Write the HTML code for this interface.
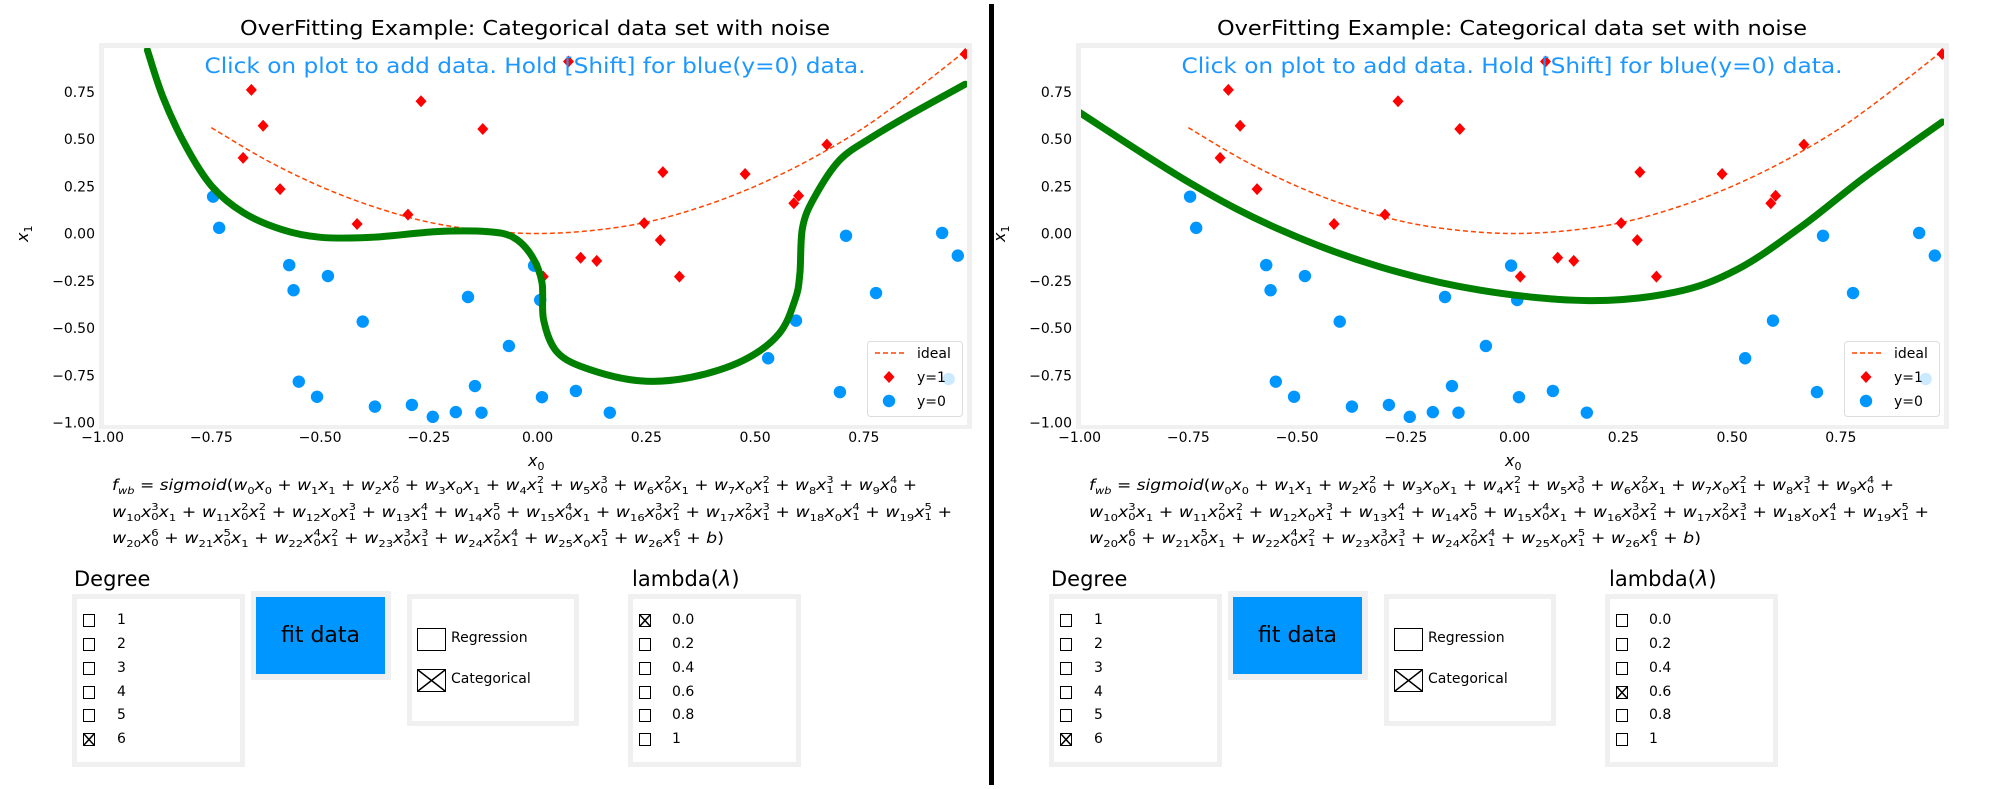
<!DOCTYPE html>
<html><head><meta charset="utf-8">
<style>
html,body{margin:0;padding:0;background:#fff;}
body{width:2000px;height:789px;position:relative;overflow:hidden;font-family:"DejaVu Sans","Liberation Sans",sans-serif;}
.panel{position:absolute;top:0;width:985px;height:789px;}
svg.chart{position:absolute;left:0;top:0;}
.fl{position:absolute;left:112px;white-space:nowrap;font-family:"DejaVu Sans",sans-serif;font-size:15px;line-height:22px;transform-origin:0 50%;}
.fl i{font-style:italic;}
.fl sub{font-size:10px;vertical-align:-4px;line-height:0;}
.t{display:inline-flex;flex-direction:column;font-size:10px;line-height:10px;vertical-align:7px;}
.lab{position:absolute;font-size:21px;line-height:24px;}
.box{position:absolute;background:#f0f0f0;}
.box .in{position:absolute;left:5px;top:5px;right:5px;bottom:5px;background:#fff;}
.cb{position:absolute;width:10px;height:11px;border:1px solid #000;background:#fff;}
.cbl{position:absolute;font-size:14px;line-height:16px;}
.btn{position:absolute;background:#0096ff;font-size:22px;line-height:77px;text-align:center;color:#000;}
.divider{position:absolute;left:989px;top:4px;width:5px;height:781px;background:#000;}
</style></head>
<body>
<div class="divider"></div>

<!-- LEFT PANEL -->
<div class="panel" id="p1" style="left:0">
<svg class="chart" id="chart1" width="985" height="470"></svg>
<div class="fl" style="top:474px"><i>f</i><sub><i>wb</i></sub> = <i>sigmoid</i>(<i>w</i><sub>0</sub><i>x</i><sub>0</sub> + <i>w</i><sub>1</sub><i>x</i><sub>1</sub> + <i>w</i><sub>2</sub><i>x</i><span class="t"><span>2</span><span>0</span></span> + <i>w</i><sub>3</sub><i>x</i><sub>0</sub><i>x</i><sub>1</sub> + <i>w</i><sub>4</sub><i>x</i><span class="t"><span>2</span><span>1</span></span> + <i>w</i><sub>5</sub><i>x</i><span class="t"><span>3</span><span>0</span></span> + <i>w</i><sub>6</sub><i>x</i><span class="t"><span>2</span><span>0</span></span><i>x</i><sub>1</sub> + <i>w</i><sub>7</sub><i>x</i><sub>0</sub><i>x</i><span class="t"><span>2</span><span>1</span></span> + <i>w</i><sub>8</sub><i>x</i><span class="t"><span>3</span><span>1</span></span> + <i>w</i><sub>9</sub><i>x</i><span class="t"><span>4</span><span>0</span></span> +</div>
<div class="fl" style="top:501px"><i>w</i><sub>10</sub><i>x</i><span class="t"><span>3</span><span>0</span></span><i>x</i><sub>1</sub> + <i>w</i><sub>11</sub><i>x</i><span class="t"><span>2</span><span>0</span></span><i>x</i><span class="t"><span>2</span><span>1</span></span> + <i>w</i><sub>12</sub><i>x</i><sub>0</sub><i>x</i><span class="t"><span>3</span><span>1</span></span> + <i>w</i><sub>13</sub><i>x</i><span class="t"><span>4</span><span>1</span></span> + <i>w</i><sub>14</sub><i>x</i><span class="t"><span>5</span><span>0</span></span> + <i>w</i><sub>15</sub><i>x</i><span class="t"><span>4</span><span>0</span></span><i>x</i><sub>1</sub> + <i>w</i><sub>16</sub><i>x</i><span class="t"><span>3</span><span>0</span></span><i>x</i><span class="t"><span>2</span><span>1</span></span> + <i>w</i><sub>17</sub><i>x</i><span class="t"><span>2</span><span>0</span></span><i>x</i><span class="t"><span>3</span><span>1</span></span> + <i>w</i><sub>18</sub><i>x</i><sub>0</sub><i>x</i><span class="t"><span>4</span><span>1</span></span> + <i>w</i><sub>19</sub><i>x</i><span class="t"><span>5</span><span>1</span></span> +</div>
<div class="fl" style="top:527px"><i>w</i><sub>20</sub><i>x</i><span class="t"><span>6</span><span>0</span></span> + <i>w</i><sub>21</sub><i>x</i><span class="t"><span>5</span><span>0</span></span><i>x</i><sub>1</sub> + <i>w</i><sub>22</sub><i>x</i><span class="t"><span>4</span><span>0</span></span><i>x</i><span class="t"><span>2</span><span>1</span></span> + <i>w</i><sub>23</sub><i>x</i><span class="t"><span>3</span><span>0</span></span><i>x</i><span class="t"><span>3</span><span>1</span></span> + <i>w</i><sub>24</sub><i>x</i><span class="t"><span>2</span><span>0</span></span><i>x</i><span class="t"><span>4</span><span>1</span></span> + <i>w</i><sub>25</sub><i>x</i><sub>0</sub><i>x</i><span class="t"><span>5</span><span>1</span></span> + <i>w</i><sub>26</sub><i>x</i><span class="t"><span>6</span><span>1</span></span> + <i>b</i>)</div>

<div class="lab" style="left:74px;top:567px">Degree</div>
<div class="box" style="left:72px;top:594px;width:173px;height:173px"><div class="in"></div></div>
<div class="cb" style="left:83px;top:614px"></div><div class="cbl" style="left:117px;top:612px">1</div>
<div class="cb" style="left:83px;top:638px"></div><div class="cbl" style="left:117px;top:636px">2</div>
<div class="cb" style="left:83px;top:662px"></div><div class="cbl" style="left:117px;top:660px">3</div>
<div class="cb" style="left:83px;top:686px"></div><div class="cbl" style="left:117px;top:684px">4</div>
<div class="cb" style="left:83px;top:709px"></div><div class="cbl" style="left:117px;top:707px">5</div>
<div class="cb" style="left:83px;top:733px"><svg width="10" height="11" style="position:absolute;left:0;top:0"><path d="M0 0L10 11M10 0L0 11" stroke="#000" stroke-width="1.5"/></svg></div><div class="cbl" style="left:117px;top:731px">6</div>

<div class="box" style="left:251px;top:591px;width:140px;height:89px"></div>
<div class="btn" style="left:256px;top:597px;width:129px;height:77px">fit data</div>

<div class="box" style="left:407px;top:594px;width:172px;height:132px"><div class="in"></div></div>
<div class="cb" style="left:417px;top:628px;width:27px;height:21px"></div>
<div class="cbl" style="left:451px;top:630px">Regression</div>
<div class="cb" style="left:417px;top:669px;width:27px;height:21px"><svg width="27" height="21" style="position:absolute;left:0;top:0"><path d="M0 0L27 21M27 0L0 21" stroke="#000" stroke-width="1.5"/></svg></div>
<div class="cbl" style="left:451px;top:671px">Categorical</div>

<div class="lab" style="left:632px;top:567px">lambda(<i>λ</i>)</div>
<div class="box" style="left:628px;top:594px;width:173px;height:173px"><div class="in"></div></div>
<div class="cb" style="left:639px;top:614px"><svg width="10" height="11" style="position:absolute;left:0;top:0"><path d="M0 0L10 11M10 0L0 11" stroke="#000" stroke-width="1.5"/></svg></div><div class="cbl" style="left:672px;top:612px">0.0</div>
<div class="cb" style="left:639px;top:638px"></div><div class="cbl" style="left:672px;top:636px">0.2</div>
<div class="cb" style="left:639px;top:662px"></div><div class="cbl" style="left:672px;top:660px">0.4</div>
<div class="cb" style="left:639px;top:686px"></div><div class="cbl" style="left:672px;top:684px">0.6</div>
<div class="cb" style="left:639px;top:709px"></div><div class="cbl" style="left:672px;top:707px">0.8</div>
<div class="cb" style="left:639px;top:733px"></div><div class="cbl" style="left:672px;top:731px">1</div>
</div>

<!-- RIGHT PANEL -->
<div class="panel" id="p2" style="left:977px">
<svg class="chart" id="chart2" width="985" height="470"></svg>
<div class="fl" style="top:474px"><i>f</i><sub><i>wb</i></sub> = <i>sigmoid</i>(<i>w</i><sub>0</sub><i>x</i><sub>0</sub> + <i>w</i><sub>1</sub><i>x</i><sub>1</sub> + <i>w</i><sub>2</sub><i>x</i><span class="t"><span>2</span><span>0</span></span> + <i>w</i><sub>3</sub><i>x</i><sub>0</sub><i>x</i><sub>1</sub> + <i>w</i><sub>4</sub><i>x</i><span class="t"><span>2</span><span>1</span></span> + <i>w</i><sub>5</sub><i>x</i><span class="t"><span>3</span><span>0</span></span> + <i>w</i><sub>6</sub><i>x</i><span class="t"><span>2</span><span>0</span></span><i>x</i><sub>1</sub> + <i>w</i><sub>7</sub><i>x</i><sub>0</sub><i>x</i><span class="t"><span>2</span><span>1</span></span> + <i>w</i><sub>8</sub><i>x</i><span class="t"><span>3</span><span>1</span></span> + <i>w</i><sub>9</sub><i>x</i><span class="t"><span>4</span><span>0</span></span> +</div>
<div class="fl" style="top:501px"><i>w</i><sub>10</sub><i>x</i><span class="t"><span>3</span><span>0</span></span><i>x</i><sub>1</sub> + <i>w</i><sub>11</sub><i>x</i><span class="t"><span>2</span><span>0</span></span><i>x</i><span class="t"><span>2</span><span>1</span></span> + <i>w</i><sub>12</sub><i>x</i><sub>0</sub><i>x</i><span class="t"><span>3</span><span>1</span></span> + <i>w</i><sub>13</sub><i>x</i><span class="t"><span>4</span><span>1</span></span> + <i>w</i><sub>14</sub><i>x</i><span class="t"><span>5</span><span>0</span></span> + <i>w</i><sub>15</sub><i>x</i><span class="t"><span>4</span><span>0</span></span><i>x</i><sub>1</sub> + <i>w</i><sub>16</sub><i>x</i><span class="t"><span>3</span><span>0</span></span><i>x</i><span class="t"><span>2</span><span>1</span></span> + <i>w</i><sub>17</sub><i>x</i><span class="t"><span>2</span><span>0</span></span><i>x</i><span class="t"><span>3</span><span>1</span></span> + <i>w</i><sub>18</sub><i>x</i><sub>0</sub><i>x</i><span class="t"><span>4</span><span>1</span></span> + <i>w</i><sub>19</sub><i>x</i><span class="t"><span>5</span><span>1</span></span> +</div>
<div class="fl" style="top:527px"><i>w</i><sub>20</sub><i>x</i><span class="t"><span>6</span><span>0</span></span> + <i>w</i><sub>21</sub><i>x</i><span class="t"><span>5</span><span>0</span></span><i>x</i><sub>1</sub> + <i>w</i><sub>22</sub><i>x</i><span class="t"><span>4</span><span>0</span></span><i>x</i><span class="t"><span>2</span><span>1</span></span> + <i>w</i><sub>23</sub><i>x</i><span class="t"><span>3</span><span>0</span></span><i>x</i><span class="t"><span>3</span><span>1</span></span> + <i>w</i><sub>24</sub><i>x</i><span class="t"><span>2</span><span>0</span></span><i>x</i><span class="t"><span>4</span><span>1</span></span> + <i>w</i><sub>25</sub><i>x</i><sub>0</sub><i>x</i><span class="t"><span>5</span><span>1</span></span> + <i>w</i><sub>26</sub><i>x</i><span class="t"><span>6</span><span>1</span></span> + <i>b</i>)</div>

<div class="lab" style="left:74px;top:567px">Degree</div>
<div class="box" style="left:72px;top:594px;width:173px;height:173px"><div class="in"></div></div>
<div class="cb" style="left:83px;top:614px"></div><div class="cbl" style="left:117px;top:612px">1</div>
<div class="cb" style="left:83px;top:638px"></div><div class="cbl" style="left:117px;top:636px">2</div>
<div class="cb" style="left:83px;top:662px"></div><div class="cbl" style="left:117px;top:660px">3</div>
<div class="cb" style="left:83px;top:686px"></div><div class="cbl" style="left:117px;top:684px">4</div>
<div class="cb" style="left:83px;top:709px"></div><div class="cbl" style="left:117px;top:707px">5</div>
<div class="cb" style="left:83px;top:733px"><svg width="10" height="11" style="position:absolute;left:0;top:0"><path d="M0 0L10 11M10 0L0 11" stroke="#000" stroke-width="1.5"/></svg></div><div class="cbl" style="left:117px;top:731px">6</div>

<div class="box" style="left:251px;top:591px;width:140px;height:89px"></div>
<div class="btn" style="left:256px;top:597px;width:129px;height:77px">fit data</div>

<div class="box" style="left:407px;top:594px;width:172px;height:132px"><div class="in"></div></div>
<div class="cb" style="left:417px;top:628px;width:27px;height:21px"></div>
<div class="cbl" style="left:451px;top:630px">Regression</div>
<div class="cb" style="left:417px;top:669px;width:27px;height:21px"><svg width="27" height="21" style="position:absolute;left:0;top:0"><path d="M0 0L27 21M27 0L0 21" stroke="#000" stroke-width="1.5"/></svg></div>
<div class="cbl" style="left:451px;top:671px">Categorical</div>

<div class="lab" style="left:632px;top:567px">lambda(<i>λ</i>)</div>
<div class="box" style="left:628px;top:594px;width:173px;height:173px"><div class="in"></div></div>
<div class="cb" style="left:639px;top:614px"></div><div class="cbl" style="left:672px;top:612px">0.0</div>
<div class="cb" style="left:639px;top:638px"></div><div class="cbl" style="left:672px;top:636px">0.2</div>
<div class="cb" style="left:639px;top:662px"></div><div class="cbl" style="left:672px;top:660px">0.4</div>
<div class="cb" style="left:639px;top:686px"><svg width="10" height="11" style="position:absolute;left:0;top:0"><path d="M0 0L10 11M10 0L0 11" stroke="#000" stroke-width="1.5"/></svg></div><div class="cbl" style="left:672px;top:684px">0.6</div>
<div class="cb" style="left:639px;top:709px"></div><div class="cbl" style="left:672px;top:707px">0.8</div>
<div class="cb" style="left:639px;top:733px"></div><div class="cbl" style="left:672px;top:731px">1</div>
</div>

<script>
// ---- data ----
const xTicks = [-1.00, -0.75, -0.50, -0.25, 0.00, 0.25, 0.50, 0.75];
const xTickLabels = ["\u22121.00", "\u22120.75", "\u22120.50", "\u22120.25", "0.00", "0.25", "0.50", "0.75"];
const yTicks = [0.75, 0.50, 0.25, 0.00, -0.25, -0.50, -0.75, -1.00];
const yTickLabels = ["0.75", "0.50", "0.25", "0.00", "\u22120.25", "\u22120.50", "\u22120.75", "\u22121.00"];
const redX = [-0.658, -0.268, -0.631, -0.126, -0.677, -0.592, -0.298, -0.415, 0.071, 0.288, 0.477, 0.245, 0.282, 0.099, 0.136, 0.013, 0.326, 0.589, 0.600, 0.665, 0.983];
const redY = [0.76, 0.70, 0.57, 0.553, 0.40, 0.235, 0.10, 0.05, 0.91, 0.325, 0.315, 0.055, -0.035, -0.128, -0.145, -0.228, -0.228, 0.16, 0.20, 0.47, 0.95];
const blueX = [-0.746, -0.732, -0.571, -0.482, -0.561, -0.16, -0.402, -0.066, -0.008, 0.006, -0.549, -0.507, -0.374, -0.289, -0.241, -0.188, -0.144, -0.129, 0.01, 0.088, 0.166, 0.53, 0.594, 0.695, 0.709, 0.778, 0.93, 0.966, 0.945];
const blueY = [0.195, 0.03, -0.167, -0.225, -0.30, -0.336, -0.466, -0.595, -0.17, -0.352, -0.784, -0.864, -0.916, -0.907, -0.97, -0.945, -0.807, -0.948, -0.866, -0.833, -0.948, -0.66, -0.461, -0.839, -0.012, -0.315, 0.003, -0.117, -0.77];
const idealX = [-0.75, -0.625, -0.5, -0.375, -0.25, -0.125, 0, 0.125, 0.25, 0.375, 0.5, 0.625, 0.75, 0.875, 0.98];
const idealY = [0.56, 0.39, 0.25, 0.14, 0.06, 0.016, 0, 0.016, 0.06, 0.14, 0.25, 0.39, 0.56, 0.77, 0.96];
const fitLeftX = [-0.897, -0.861, -0.808, -0.749, -0.676, -0.587, -0.499, -0.38, -0.233, -0.116, -0.056, -0.013, 0.01, 0.014, 0.046, 0.12, 0.238, 0.355, 0.474, 0.555, 0.592, 0.603, 0.609, 0.636, 0.695, 0.769, 0.857, 0.983];
const fitLeftY = [0.97, 0.72, 0.46, 0.25, 0.11, 0.02, -0.02, -0.02, 0.01, 0.01, -0.02, -0.12, -0.26, -0.46, -0.63, -0.72, -0.78, -0.76, -0.67, -0.53, -0.35, -0.21, 0.03, 0.19, 0.39, 0.51, 0.63, 0.79];
const fitRightX = [-1.0, -0.746, -0.539, -0.31, -0.079, 0.17, 0.37, 0.512, 0.659, 0.806, 0.983];
const fitRightY = [0.64, 0.267, 0.02, -0.176, -0.30, -0.355, -0.31, -0.19, 0.036, 0.30, 0.59];

const NS = "http://www.w3.org/2000/svg";
function X(v){ return 537.6 + 435 * v; }
function Y(v){ return 233.5 - 189 * v; }
function mk(parent, tag, attrs){ const e = document.createElementNS(NS, tag); for (const k in attrs) e.setAttribute(k, attrs[k]); parent.appendChild(e); return e; }
function spline(xs, ys){
  const p = xs.map((x,i)=>[X(x), Y(ys[i])]);
  let d = "M" + p[0][0].toFixed(1) + " " + p[0][1].toFixed(1);
  for (let i = 0; i < p.length - 1; i++){
    const p0 = p[Math.max(i-1,0)], p1 = p[i], p2 = p[i+1], p3 = p[Math.min(i+2,p.length-1)];
    const c1 = [p1[0] + (p2[0]-p0[0])/6, p1[1] + (p2[1]-p0[1])/6];
    const c2 = [p2[0] - (p3[0]-p1[0])/6, p2[1] - (p3[1]-p1[1])/6];
    d += " C" + c1[0].toFixed(1) + " " + c1[1].toFixed(1) + " " + c2[0].toFixed(1) + " " + c2[1].toFixed(1) + " " + p2[0].toFixed(1) + " " + p2[1].toFixed(1);
  }
  return d;
}
function diamond(cx, cy){ return "M"+cx+" "+(cy-6)+"L"+(cx+5.5)+" "+cy+"L"+cx+" "+(cy+6)+"L"+(cx-5.5)+" "+cy+"Z"; }

function drawPanel(svg, idx, fx, fy){
  const frame = mk(svg, "rect", {x:99, y:43, width:873, height:386, fill:"#f0f0f0"});
  
  
  const area = mk(svg, "rect", {x:104, y:48, width:863, height:377, fill:"#fff"});
  
  
  const defs = mk(svg, "defs", {});
  const cp = mk(defs, "clipPath", {id:"clip"+idx});
  mk(cp, "rect", {x:104, y:48, width:863, height:377});

  const title = mk(svg, "text", {x:535, y:35, "text-anchor":"middle", "font-size":20, fill:"#000", textLength:590, lengthAdjust:"spacingAndGlyphs"});
  title.textContent = "OverFitting Example: Categorical data set with noise";
  
  

  xTicks.forEach((t,i)=>{
    const tx = mk(svg, "text", {x:X(t), y:442, "text-anchor":"middle", "font-size":14, fill:"#000"});
    tx.textContent = xTickLabels[i];
    
    
  });
  yTicks.forEach((t,i)=>{
    const ty = mk(svg, "text", {x:95, y:Y(t)+5, "text-anchor":"end", "font-size":14, fill:"#000"});
    ty.textContent = yTickLabels[i];
    
    
  });
  const xl = mk(svg, "text", {x:528, y:466, "font-size":16, "font-style":"italic", fill:"#000"});
  xl.innerHTML = 'x<tspan font-size="11" font-style="normal" dy="4">0</tspan>';
  
  
  const yl = mk(svg, "text", {x:0, y:0, "font-size":16, "font-style":"italic", fill:"#000", transform:"translate(28,242) rotate(-90)"});
  yl.innerHTML = 'x<tspan font-size="11" font-style="normal" dy="4">1</tspan>';
  
  

  const g = mk(svg, "g", {"clip-path":"url(#clip"+idx+")"});
  const ideal = mk(g, "path", {d:spline(idealX, idealY), fill:"none", stroke:"#ff4500", "stroke-width":1.5, "stroke-dasharray":"5,3"});
  
  
  redX.forEach((x,i)=>{
    const m = mk(g, "path", {d:diamond(X(x), Y(redY[i])), fill:"#ff0000"});
    
    
  });
  blueX.forEach((x,i)=>{
    const m = mk(g, "circle", {cx:X(x), cy:Y(blueY[i]), r:6.2, fill:"#0096ff"});
    
    
  });
  const fit = mk(g, "path", {d:spline(fx, fy), fill:"none", stroke:"#008000", "stroke-width":7, "stroke-linejoin":"round", "stroke-linecap":"round"});
  
  

  const click = mk(svg, "text", {x:535, y:73, "text-anchor":"middle", "font-size":21, fill:"#1c97ff", textLength:661, lengthAdjust:"spacingAndGlyphs"});
  click.textContent = "Click on plot to add data. Hold [Shift] for blue(y=0) data.";
  
  

  const lg = mk(svg, "g", {});
  
  
  mk(lg, "rect", {x:867.5, y:341.5, width:95, height:75, rx:3, fill:"#fff", "fill-opacity":0.8, stroke:"#ddd"});
  mk(lg, "line", {x1:875, y1:353, x2:904, y2:353, stroke:"#ff4500", "stroke-width":1.5, "stroke-dasharray":"5,3"});
  mk(lg, "path", {d:diamond(889, 377), fill:"#ff0000"});
  mk(lg, "circle", {cx:889, cy:401, r:6.2, fill:"#0096ff"});
  const labels = ["ideal", "y=1", "y=0"];
  labels.forEach((s,i)=>{
    const t = mk(lg, "text", {x:917, y:358 + 24*i, "font-size":14, fill:"#000"});
    t.textContent = s;
    
    
  });
}
drawPanel(document.getElementById("chart1"), 1, fitLeftX, fitLeftY);
drawPanel(document.getElementById("chart2"), 2, fitRightX, fitRightY);

// fit formula lines to measured widths
const targets = [805, 840, 612];
document.querySelectorAll(".panel").forEach(p=>{
  p.querySelectorAll(".fl").forEach((el,i)=>{
    const w = el.getBoundingClientRect().width;
    if (w > 0) el.style.transform = "scaleX(" + (targets[i]/w) + ")";
  });
});
</script>
</body></html>
